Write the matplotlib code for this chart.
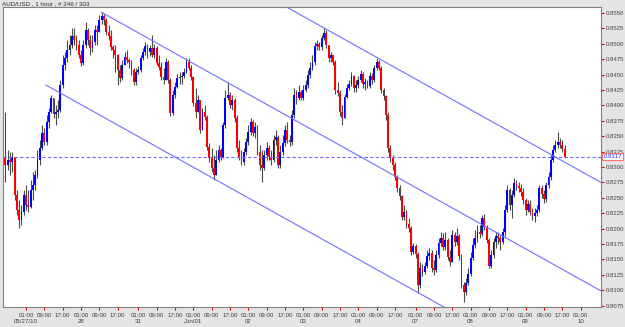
import numpy as np
import pandas as pd
import matplotlib
matplotlib.use("Agg")
import matplotlib.pyplot as plt
import matplotlib.transforms as mtransforms

# AUD/USD 1 hour candles, prices given in pips above 0.8000
title = "AUD/USD , 1 hour , # 246 / 303"
first_open = 315
close_pips = [
    303, 311, 308, 316, 255, 230, 214, 227, 255, 238,
    235, 263, 271, 287, 311, 331, 355, 341, 373, 389,
    412, 386, 389, 393, 433, 466, 477, 490, 498, 513,
    506, 498, 482, 469, 498, 522, 506, 493, 503, 522,
    519, 539, 545, 539, 519, 513, 495, 490, 482, 457,
    444, 466, 479, 474, 470, 457, 438, 454, 457, 477,
    487, 496, 487, 493, 482, 493, 469, 462, 446, 441,
    470, 441, 388, 417, 430, 444, 446, 448, 454, 470,
    461, 446, 404, 389, 409, 360, 389, 381, 332, 315,
    298, 287, 311, 328, 316, 368, 412, 417, 401, 409,
    380, 331, 315, 308, 324, 341, 357, 373, 355, 365,
    324, 303, 298, 319, 331, 316, 311, 344, 349, 303,
    324, 339, 360, 344, 341, 384, 417, 412, 422, 412,
    425, 433, 449, 461, 470, 496, 500, 495, 509, 518,
    498, 477, 482, 470, 425, 420, 389, 380, 414, 428,
    435, 448, 428, 433, 441, 451, 435, 438, 431, 448,
    441, 461, 470, 461, 425, 415, 384, 331, 315, 303,
    284, 266, 253, 219, 227, 207, 201, 162, 172, 159,
    108, 136, 130, 139, 155, 160, 136, 133, 157, 177,
    185, 170, 181, 154, 146, 190, 178, 188, 155, 108,
    97, 112, 126, 152, 173, 185, 194, 191, 217, 203,
    181, 139, 157, 178, 188, 185, 178, 194, 230, 263,
    238, 255, 274, 269, 266, 259, 246, 230, 240, 227,
    220, 225, 230, 266, 256, 248, 271, 284, 311, 328,
    336, 341, 336, 329, 317,
]
high_pips = [
    389, 328, 324, 324, 316, 263, 246, 238, 263, 271,
    263, 279, 292, 295, 328, 344, 368, 363, 384, 396,
    417, 412, 401, 409, 441, 482, 487, 506, 514, 526,
    526, 514, 506, 490, 506, 535, 526, 514, 514, 530,
    530, 547, 552, 548, 542, 530, 522, 498, 498, 484,
    466, 474, 487, 490, 477, 474, 461, 461, 464, 482,
    493, 503, 500, 498, 514, 500, 496, 482, 470, 461,
    477, 474, 444, 425, 438, 451, 454, 454, 461, 477,
    477, 466, 448, 428, 417, 409, 396, 401, 384, 339,
    331, 319, 328, 336, 331, 373, 425, 438, 422, 417,
    412, 384, 344, 328, 331, 347, 368, 380, 376, 373,
    368, 336, 328, 328, 341, 336, 328, 352, 360, 352,
    336, 352, 368, 373, 352, 393, 428, 425, 433, 425,
    433, 441, 457, 470, 482, 503, 506, 503, 514, 526,
    522, 498, 487, 482, 474, 438, 425, 401, 418, 435,
    441, 454, 449, 441, 448, 457, 454, 444, 441, 454,
    453, 466, 477, 474, 464, 428, 417, 389, 336, 319,
    308, 287, 271, 255, 238, 230, 217, 204, 177, 175,
    162, 146, 143, 146, 165, 168, 165, 149, 165, 185,
    194, 193, 194, 185, 165, 198, 194, 201, 191, 159,
    113, 120, 136, 162, 185, 198, 206, 206, 222, 224,
    206, 185, 165, 185, 194, 194, 190, 201, 238, 271,
    266, 263, 282, 279, 276, 272, 266, 250, 246, 246,
    233, 233, 238, 271, 271, 263, 276, 292, 319, 336,
    344, 357, 347, 344, 336,
]
low_pips = [
    276, 295, 287, 292, 246, 222, 201, 206, 222, 230,
    227, 233, 246, 263, 282, 303, 328, 336, 336, 363,
    388, 380, 368, 380, 389, 428, 457, 470, 482, 493,
    498, 490, 477, 464, 466, 493, 498, 482, 487, 498,
    498, 519, 532, 530, 514, 506, 490, 477, 454, 433,
    438, 441, 469, 469, 461, 449, 433, 433, 451, 454,
    474, 482, 477, 480, 479, 477, 466, 457, 441, 435,
    441, 436, 383, 384, 412, 428, 435, 435, 444, 453,
    457, 441, 399, 380, 389, 355, 360, 376, 328, 308,
    292, 279, 295, 308, 311, 315, 363, 409, 396, 393,
    373, 324, 311, 303, 303, 319, 336, 352, 350, 347,
    319, 295, 276, 295, 311, 311, 303, 308, 336, 298,
    298, 319, 334, 339, 334, 336, 380, 402, 409, 409,
    409, 422, 428, 444, 457, 466, 490, 490, 490, 506,
    493, 470, 470, 466, 418, 415, 383, 368, 380, 412,
    425, 431, 422, 422, 428, 438, 428, 425, 428, 428,
    435, 438, 457, 457, 420, 409, 376, 324, 308, 295,
    279, 259, 246, 214, 214, 201, 194, 157, 159, 152,
    95, 104, 123, 126, 136, 149, 130, 125, 130, 152,
    172, 165, 165, 149, 139, 146, 172, 173, 149, 104,
    81, 92, 108, 123, 149, 168, 178, 185, 188, 198,
    177, 136, 136, 152, 168, 175, 165, 175, 188, 227,
    230, 217, 251, 263, 259, 253, 240, 222, 227, 222,
    214, 211, 220, 227, 250, 242, 243, 266, 279, 308,
    324, 331, 331, 324, 315,
]
last_price = 0.8317

# drawn trend channel: (bar, price) -> (bar, price)
channel_lines = [
    ((42.0, 0.8551), (260.0, 0.80986)),
    ((17.7, 0.8433), (260.0, 0.79302)),
    ((109.0, 0.8588), (260.0, 0.82747)),
]

# hourly bar times, forex weekend removed (Fri 22:00 .. Sun 20:00)
hours = pd.date_range("2010-05-26 16:00", "2010-06-11 06:00", freq="h")
wd = hours.dayofweek
weekend = ((wd == 4) & (hours.hour >= 22)) | (wd == 5) | ((wd == 6) & (hours.hour < 21))
times = hours[~weekend]

close = 0.8 + np.array(close_pips) / 10000
high = 0.8 + np.array(high_pips) / 10000
low = 0.8 + np.array(low_pips) / 10000
opens = np.r_[0.8 + first_open / 10000, close[:-1]]
high = np.maximum(high, np.maximum(opens, close))
low = np.minimum(low, np.minimum(opens, close))
x = np.arange(len(close))
up = close >= opens

small = ["Liberation Sans Narrow", "Liberation Sans", "DejaVu Sans"]

fig = plt.figure(figsize=(6.25, 3.27), dpi=100, facecolor="#e4e4e4")
ax = fig.add_axes([3 / 625, 20 / 327, 598 / 625, 300 / 327])
ax.set_facecolor("white")

ax.vlines(x, low, high, color="#4a4a4a", lw=0.8, zorder=2)
body_bot = np.minimum(opens, close)
body_h = np.maximum(np.abs(close - opens), 0.00004)
ax.bar(x, body_h, bottom=body_bot, width=0.8,
       color=np.where(up, "#0000ff", "#ff0000"), linewidth=0, zorder=3)

for (x0, y0), (x1, y1) in channel_lines:
    ax.plot([x0, x1], [y0, y1], color="#6f6fff", lw=0.8, zorder=4)

ax.axhline(last_price, color="#6f6fff", lw=0.8, ls=(0, (3, 2)), zorder=4)

ax.set_xlim(-1.04, 259.9)
ax.set_ylim(0.80727, 0.85597)

# right price axis
yt = np.arange(0.8075, 0.85501, 0.0025)
ax.yaxis.tick_right()
ax.set_yticks(yt)
ax.set_yticklabels([f"{v:.4f}" for v in yt], family=small, fontsize=4.3)
ax.tick_params(axis="y", colors="#e00000", labelcolor="#404040",
               length=2.5, width=0.8, pad=1)

# time axis
tick_idx = [i for i, t in enumerate(times) if t.hour in (1, 9, 17) and 4 <= i < 255]
labels = []
first = True
for i in tick_idx:
    t = times[i]
    lab = t.strftime("%H:%M")
    if t.hour == 1:
        if first:
            lab += "\n" + t.strftime("%m/%d/%y")
            first = False
        elif t.day == 1:
            lab += "\n" + t.strftime("%b/%d")
        else:
            lab += "\n" + t.strftime("%d")
    labels.append(lab)
ax.set_xticks(tick_idx)
ax.set_xticklabels(labels, linespacing=1.25, family=small, fontsize=4.4)
ax.tick_params(axis="x", colors="#e00000", labelcolor="#404040",
               length=2, width=0.8, pad=2)
for lab in ax.get_xticklabels():
    lab.set_verticalalignment("top")
    lab.set_multialignment("center")

for sp in ax.spines.values():
    sp.set_color("#808080")
    sp.set_linewidth(0.8)

# current price tag
trans = mtransforms.blended_transform_factory(ax.transAxes, ax.transData)
ax.text(1.004, last_price, f"{last_price:.4f}", transform=trans, fontsize=4.3,
        family=small, color="#3030ff", va="center", ha="left",
        bbox=dict(boxstyle="square,pad=0.15", fc="white", ec="#ff7070", lw=0.8))

fig.text(2 / 625, 1 - 4 / 327, title, fontsize=4.5, family=small, color="#303030",
         ha="left", va="center")

fig.savefig("out.png", dpi=100, facecolor=fig.get_facecolor())
